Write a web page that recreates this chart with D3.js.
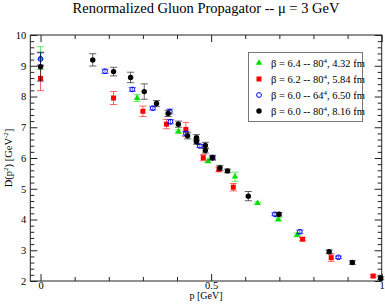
<!DOCTYPE html>
<html>
<head>
<meta charset="utf-8">
<script src="https://cdn.jsdelivr.net/npm/d3@7"></script>
<style>
  body { margin: 0; background: #fff; }
  svg { display: block; font-family: "Liberation Serif", "DejaVu Serif", serif; }
</style>
</head>
<body>
<div id="chart"></div>
<script>
'use strict';

// beta = 6.4 -- 80^4, 4.32 fm
const greenP = [0, 0.283, 0.404, 0.491, 0.57, 0.636, 0.697, 0.752];
const greenD = [9.25, 7.95, 6.86, 5.9, 5.39, 4.53, 4.0, 3.5];
const greenErr = [0.37, 0.11, 0.05, 0.06, 0.15, 0.04, 0.05, 0.06];

// beta = 6.2 -- 80^4, 5.84 fm
const redP = [0, 0.214, 0.3, 0.369, 0.426, 0.477, 0.523, 0.565, 0.768, 0.852, 0.975];
const redD = [8.59, 7.95, 7.52, 7.1, 6.93, 6.01, 5.63, 5.05, 3.36, 2.76, 2.16];
const redErr = [0.4, 0.21, 0.17, 0.15, 0.23, 0.1, 0.08, 0.12, 0.05, 0.12, 0.04];

// beta = 6.0 -- 64^4, 6.50 fm
const blueP = [0, 0.189, 0.269, 0.329, 0.379, 0.381, 0.426, 0.467, 0.504, 0.687, 0.76, 0.873];
const blueD = [9.22, 8.82, 8.23, 7.62, 7.51, 7.18, 6.8, 6.39, 6.01, 4.17, 3.6, 2.77];
const blueErr = [0.2, 0.07, 0.06, 0.06, 0.08, 0.07, 0.06, 0.05, 0.05, 0.05, 0.06, 0.04];

// beta = 6.0 -- 80^4, 8.16 fm
const blackP = [0, 0.153, 0.214, 0.264, 0.304, 0.34, 0.374, 0.404, 0.431, 0.457, 0.457,
    0.483, 0.483, 0.504, 0.526, 0.548, 0.609, 0.699, 0.846, 0.914, 0.997];
const blackD = [8.97, 9.19, 8.81, 8.62, 8.16, 7.77, 7.45, 7.1, 6.72, 6.66, 6.53,
    6.41, 6.24, 6.01, 5.68, 5.58, 4.76, 4.17, 2.95, 2.6, 2.09];
const blackErr = [0.47, 0.2, 0.14, 0.17, 0.25, 0.1, 0.1, 0.1, 0.1, 0.1, 0.08,
    0.1, 0.08, 0.08, 0.08, 0.06, 0.15, 0.06, 0.06, 0.06, 0.05];

const xMajor = [0, 0.5, 1];
const yMajor = [2, 3, 4, 5, 6, 7, 8, 9, 10];

const width = 385, height = 305;
const margin = {top: 35, right: 3.3, bottom: 24, left: 30.3};

const series = [
    {label: ['β = 6.4 -- 80', '4', ', 4.32 fm'], color: '#00e000', shape: 'triangle', p: greenP, d: greenD, err: greenErr},
    {label: ['β = 6.2 -- 80', '4', ', 5.84 fm'], color: '#ff0000', shape: 'square', p: redP, d: redD, err: redErr},
    {label: ['β = 6.0 -- 64', '4', ', 6.50 fm'], color: '#0000ff', shape: 'circleOpen', p: blueP, d: blueD, err: blueErr},
    {label: ['β = 6.0 -- 80', '4', ', 8.16 fm'], color: '#000000', shape: 'circle', p: blackP, d: blackD, err: blackErr}
];

const svg = d3.select('#chart').append('svg')
    .attr('width', width).attr('height', height);

svg.append('rect').attr('width', width).attr('height', height).attr('fill', '#fff');

const x = d3.scaleLinear().domain([-0.03, 1]).range([margin.left, width - margin.right]);
const y = d3.scaleLinear().domain([2, 10]).range([height - margin.bottom, margin.top]);

const xMinor = d3.range(0, 1.0001, 0.1).map(v => +v.toFixed(2)).filter(v => !xMajor.includes(v));
const yMinor = d3.range(2, 10.0001, 0.2).map(v => +v.toFixed(2)).filter(v => !yMajor.includes(v));

const axisColor = '#222';

function styleAxis(g, labels) {
    g.select('.domain').remove();
    g.selectAll('.tick line').attr('stroke', axisColor);
    g.selectAll('.tick text').attr('font-size', 10.5).attr('fill', '#000')
        .attr('font-family', '"Liberation Serif", serif');
    if (!labels) g.selectAll('.tick text').remove();
}

function drawAxes() {
    const bottomY = height - margin.bottom, rightX = width - margin.right;
    // bottom
    svg.append('g').attr('transform', `translate(0,${bottomY})`)
        .call(d3.axisBottom(x).tickValues(xMajor).tickSizeInner(-7).tickPadding(1)
            .tickFormat(d => d === 0.5 ? '0.5' : d3.format('d')(d)))
        .call(g => styleAxis(g, true));
    svg.append('g').attr('transform', `translate(0,${bottomY})`)
        .call(d3.axisBottom(x).tickValues(xMinor).tickSizeInner(-4))
        .call(g => styleAxis(g, false));
    // top
    svg.append('g').attr('transform', `translate(0,${margin.top})`)
        .call(d3.axisTop(x).tickValues(xMajor).tickSizeInner(-7))
        .call(g => styleAxis(g, false));
    svg.append('g').attr('transform', `translate(0,${margin.top})`)
        .call(d3.axisTop(x).tickValues(xMinor).tickSizeInner(-4))
        .call(g => styleAxis(g, false));
    // left
    svg.append('g').attr('transform', `translate(${margin.left},0)`)
        .call(d3.axisLeft(y).tickValues(yMajor).tickSizeInner(-7).tickPadding(4).tickFormat(d3.format('d')))
        .call(g => styleAxis(g, true));
    svg.append('g').attr('transform', `translate(${margin.left},0)`)
        .call(d3.axisLeft(y).tickValues(yMinor).tickSizeInner(-4))
        .call(g => styleAxis(g, false));
    // right
    svg.append('g').attr('transform', `translate(${rightX},0)`)
        .call(d3.axisRight(y).tickValues(yMajor).tickSizeInner(-7))
        .call(g => styleAxis(g, false));
    svg.append('g').attr('transform', `translate(${rightX},0)`)
        .call(d3.axisRight(y).tickValues(yMinor).tickSizeInner(-4))
        .call(g => styleAxis(g, false));

    svg.append('rect')
        .attr('x', margin.left).attr('y', margin.top)
        .attr('width', rightX - margin.left).attr('height', bottomY - margin.top)
        .attr('fill', 'none').attr('stroke', axisColor).attr('stroke-width', 1);
}

function drawMarker(g, shape, color, cx, cy) {
    if (shape === 'triangle') {
        g.append('path').attr('d', d3.symbol(d3.symbolTriangle, 18)())
            .attr('transform', `translate(${cx},${cy})`).attr('fill', color);
    } else if (shape === 'square') {
        g.append('rect').attr('x', cx - 2.5).attr('y', cy - 2.5)
            .attr('width', 5).attr('height', 5).attr('fill', color);
    } else if (shape === 'circleOpen') {
        g.append('circle').attr('cx', cx).attr('cy', cy).attr('r', 2.4)
            .attr('fill', 'none').attr('stroke', color).attr('stroke-width', 1);
    } else {
        g.append('circle').attr('cx', cx).attr('cy', cy).attr('r', 2.7).attr('fill', color);
    }
}

function drawSeries(s) {
    const g = svg.append('g');
    const capW = 3.6;
    s.p.forEach((p, i) => {
        const cx = x(p);
        const y0 = y(s.d[i] - s.err[i]), y1 = y(s.d[i] + s.err[i]);
        const eg = g.append('g').attr('stroke', s.color).attr('stroke-opacity', 0.6).attr('stroke-width', 1);
        eg.append('line').attr('x1', cx).attr('x2', cx).attr('y1', y0).attr('y2', y1);
        eg.append('line').attr('x1', cx - capW).attr('x2', cx + capW).attr('y1', y0).attr('y2', y0);
        eg.append('line').attr('x1', cx - capW).attr('x2', cx + capW).attr('y1', y1).attr('y2', y1);
    });
    s.p.forEach((p, i) => drawMarker(g, s.shape, s.color, x(p), y(s.d[i])));
}

function drawLegend() {
    const lg = svg.append('g');
    lg.append('rect').attr('x', 248.5).attr('y', 52.5).attr('width', 114).attr('height', 69)
        .attr('fill', '#fff').attr('stroke', '#777').attr('stroke-width', 1);
    series.forEach((s, i) => {
        const cy = 63 + i * 16;
        drawMarker(lg, s.shape, s.color, 259, cy);
        const t = lg.append('text').attr('x', 271).attr('y', cy + 3.5).attr('font-size', 10.5);
        t.append('tspan').text(s.label[0]);
        t.append('tspan').attr('dy', -4).attr('font-size', 7).text(s.label[1]);
        t.append('tspan').attr('dy', 4).text(s.label[2]);
    });
}

drawAxes();
series.forEach(drawSeries);
drawLegend();

// title
svg.append('text').attr('x', (margin.left + width - margin.right) / 2).attr('y', 13)
    .attr('text-anchor', 'middle').attr('font-size', 14.5)
    .text('Renormalized Gluon Propagator -- μ = 3 GeV');

// x label
svg.append('text').attr('x', (margin.left + width - margin.right) / 2).attr('y', 299)
    .attr('text-anchor', 'middle').attr('font-size', 10)
    .text('p  [GeV]');

// y label
const yl = svg.append('text')
    .attr('transform', `translate(12,${(margin.top + height - margin.bottom) / 2}) rotate(-90)`)
    .attr('text-anchor', 'middle').attr('font-size', 10.5);
yl.append('tspan').text('D(p');
yl.append('tspan').attr('dy', -4).attr('font-size', 7).text('2');
yl.append('tspan').attr('dy', 4).text(')  [GeV');
yl.append('tspan').attr('dy', -4).attr('font-size', 7).text('-2');
yl.append('tspan').attr('dy', 4).text(']');
</script>
</body>
</html>
